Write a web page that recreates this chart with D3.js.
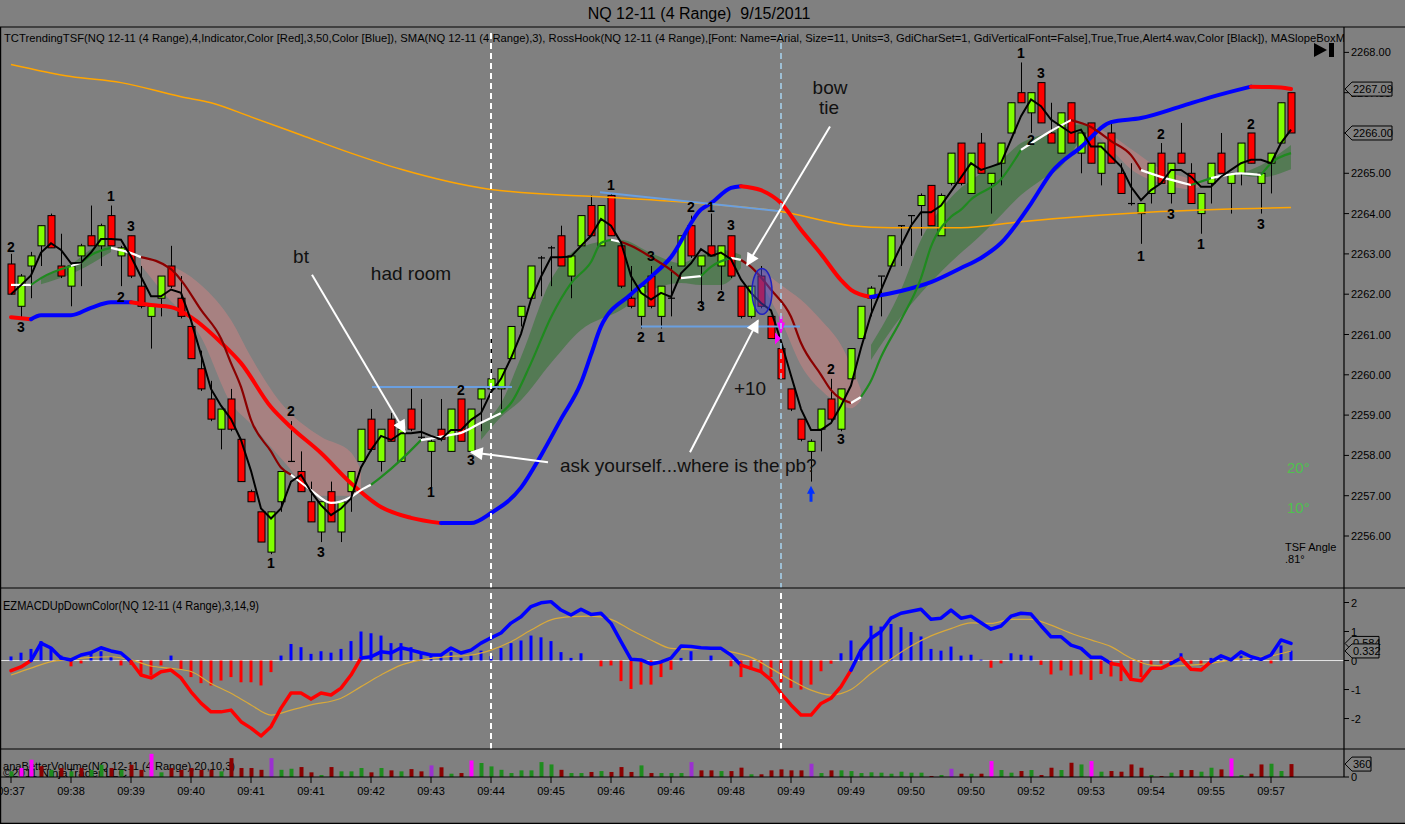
<!DOCTYPE html>
<html lang="en">

<head>
    <meta charset="UTF-8">
    <title>NQ 12-11 (4 Range) 9/15/2011</title>
    <style>
        body {
            margin: 0;
            padding: 0;
            background-color: #808080;
        }

        svg {
            display: block;
            font-family: "Liberation Sans", Arial, sans-serif;
        }
    </style>
</head>

<body>
    <div id="chart"></div>
    <script src="https://d3js.org/d3.v7.min.js"></script>
    <script>
        // ---- range bars (one per bar index 0..128) ----
        const opens = [2262.75, 2261.7, 2262.7, 2263.2, 2263.95, 2262.7, 2262.2, 2262.95, 2263.45, 2263.2,
            2263.95, 2262.95, 2263.45, 2262.2, 2261.45, 2261.9, 2262.7, 2261.9, 2261.2, 2260.15,
            2259.4, 2258.65, 2259.4, 2258.4, 2257.1, 2256.6, 2255.6, 2256.85, 2257.85, 2257.6,
            2256.85, 2256.1, 2257.1, 2256.1, 2257.1, 2257.85, 2258.9, 2257.85, 2258.9, 2257.85,
            2259.15, 2258.45, 2258.1, 2258.65, 2258.1, 2259.4, 2258.1, 2259.4, 2259.65, 2259.65,
            2260.4, 2261.45, 2261.9, 2262.9, 2263.15, 2263.45, 2262.45, 2263.2, 2264.2, 2263.2,
            2264.45, 2263.2, 2261.9, 2261.45, 2262.45, 2261.45, 2261.9, 2262.7, 2263.7, 2262.7,
            2263.2, 2262.7, 2263.45, 2262.2, 2261.45, 2262.45, 2261.45, 2260.65, 2259.65, 2258.9,
            2258.1, 2258.65, 2259.4, 2258.65, 2259.9, 2260.9, 2261.9, 2262.45, 2262.7, 2263.7,
            2263.95, 2264.2, 2264.7, 2263.45, 2264.75, 2265.75, 2264.5, 2265.75, 2264.75, 2265.25,
            2266.0, 2267.0, 2266.5, 2267.25, 2266.0, 2265.5, 2266.75, 2265.5, 2266.25, 2265.0,
            2266.0, 2265.0, 2264.25, 2264.0, 2264.5, 2265.5, 2264.5, 2265.5, 2265.0, 2264.0,
            2264.75, 2265.5, 2264.75, 2265.0, 2266.0, 2264.75, 2265.25, 2265.75, 2267.0];
        const highs = [2263.0, 2262.5, 2263.05, 2263.7, 2264.0, 2263.5, 2262.75, 2263.25, 2264.2, 2263.75,
            2264.2, 2263.2, 2263.45, 2262.7, 2261.7, 2262.45, 2263.2, 2262.45, 2261.2, 2260.6,
            2259.85, 2259.15, 2259.65, 2258.4, 2257.15, 2256.6, 2256.6, 2257.6, 2258.85, 2258.1,
            2257.35, 2256.85, 2257.35, 2256.85, 2257.6, 2258.65, 2259.15, 2258.65, 2259.05, 2258.65,
            2259.65, 2259.4, 2258.4, 2259.4, 2259.15, 2259.4, 2259.15, 2259.65, 2260.9, 2260.15,
            2261.2, 2261.7, 2262.7, 2262.95, 2263.2, 2263.7, 2262.95, 2263.95, 2264.45, 2264.2,
            2264.5, 2263.2, 2262.7, 2262.2, 2262.7, 2262.2, 2262.7, 2263.45, 2263.95, 2262.95,
            2264.0, 2263.2, 2263.45, 2262.2, 2262.2, 2262.7, 2261.45, 2260.65, 2259.65, 2258.9,
            2258.4, 2259.15, 2259.9, 2259.65, 2260.65, 2261.7, 2262.2, 2262.45, 2263.45, 2263.7,
            2263.95, 2264.5, 2264.7, 2264.5, 2265.5, 2265.75, 2265.5, 2266.0, 2265.0, 2265.75,
            2266.75, 2267.75, 2267.0, 2267.25, 2266.75, 2266.5, 2266.75, 2266.0, 2266.25, 2265.75,
            2266.25, 2265.25, 2265.25, 2264.25, 2265.25, 2265.75, 2265.25, 2266.25, 2265.25, 2264.5,
            2265.25, 2266.0, 2265.0, 2265.75, 2266.0, 2265.0, 2265.5, 2266.75, 2267.0];
        const lows = [2262.0, 2261.4, 2261.9, 2262.7, 2263.15, 2262.4, 2261.7, 2262.2, 2263.2, 2262.7,
            2263.2, 2262.2, 2262.4, 2261.65, 2260.65, 2261.45, 2262.15, 2261.4, 2260.4, 2259.6,
            2258.85, 2258.15, 2258.6, 2257.35, 2256.85, 2255.85, 2255.55, 2256.6, 2257.85, 2257.1,
            2256.35, 2255.85, 2256.35, 2255.85, 2256.6, 2257.85, 2258.1, 2257.6, 2258.35, 2257.85,
            2258.6, 2258.4, 2257.2, 2258.35, 2258.1, 2258.35, 2258.1, 2258.6, 2259.6, 2259.15,
            2260.4, 2261.2, 2261.9, 2261.95, 2262.2, 2262.7, 2261.9, 2263.2, 2263.45, 2263.2,
            2263.45, 2262.15, 2261.65, 2261.15, 2261.65, 2261.15, 2261.45, 2262.7, 2262.9, 2261.75,
            2262.95, 2262.1, 2262.4, 2261.4, 2261.4, 2261.65, 2260.9, 2259.9, 2259.1, 2258.35,
            2257.35, 2258.1, 2258.85, 2258.6, 2259.9, 2260.9, 2261.45, 2261.45, 2262.7, 2262.7,
            2262.95, 2263.45, 2263.7, 2263.45, 2264.7, 2264.7, 2264.5, 2265.0, 2264.0, 2264.7,
            2266.0, 2266.75, 2266.0, 2266.25, 2265.75, 2265.5, 2265.75, 2265.0, 2265.25, 2264.7,
            2265.25, 2264.5, 2264.2, 2263.25, 2264.25, 2264.75, 2264.25, 2265.25, 2264.25, 2263.5,
            2264.25, 2265.0, 2264.0, 2264.7, 2265.25, 2264.0, 2264.5, 2265.75, 2266.0];
        const closes = [2262.0, 2262.45, 2262.95, 2263.7, 2263.15, 2262.45, 2262.7, 2263.2, 2263.2, 2263.7,
            2263.2, 2263.15, 2262.45, 2261.7, 2261.7, 2262.45, 2262.2, 2261.45, 2260.4, 2259.65,
            2258.9, 2259.15, 2258.65, 2257.35, 2256.85, 2255.85, 2256.6, 2257.6, 2257.85, 2257.1,
            2256.35, 2256.85, 2256.35, 2256.85, 2257.6, 2258.65, 2258.15, 2258.65, 2258.35, 2258.65,
            2258.65, 2258.45, 2258.35, 2258.4, 2259.15, 2258.35, 2259.15, 2259.65, 2259.9, 2260.15,
            2261.2, 2261.7, 2262.7, 2262.9, 2263.15, 2262.7, 2262.95, 2263.95, 2263.45, 2264.2,
            2263.45, 2262.2, 2261.7, 2262.2, 2261.7, 2262.2, 2261.9, 2263.45, 2262.95, 2262.95,
            2262.95, 2263.2, 2262.45, 2261.45, 2262.2, 2261.7, 2260.9, 2259.9, 2259.15, 2258.4,
            2258.35, 2259.15, 2258.9, 2259.65, 2260.65, 2261.7, 2262.15, 2262.45, 2263.45, 2263.7,
            2263.95, 2264.45, 2263.7, 2264.45, 2265.5, 2264.75, 2265.5, 2265.0, 2265.0, 2265.75,
            2266.75, 2266.75, 2267.0, 2266.25, 2265.75, 2266.5, 2265.75, 2266.0, 2265.25, 2265.75,
            2265.25, 2264.5, 2264.25, 2264.25, 2265.25, 2264.75, 2265.25, 2265.25, 2264.25, 2264.5,
            2265.25, 2265.0, 2265.0, 2265.75, 2265.25, 2265.0, 2265.5, 2266.75, 2266.0];

        const timeLabels = ["09:37", "09:38", "09:39", "09:40", "09:41", "09:41", "09:42", "09:43", "09:44", "09:45", "09:46",
            "09:46", "09:48", "09:49", "09:49", "09:50", "09:50", "09:52", "09:53", "09:54", "09:55", "09:57"];
        const priceTicks = [2256, 2257, 2258, 2259, 2260, 2261, 2262, 2263, 2264, 2265, 2266, 2267, 2268];
        const macdTicks = [-2, -1, 0, 1, 2];

        // ---- overlays as [bar, price] ----
        const slowSma = [[0, 2267.7], [6, 2267.4], [11, 2267.25], [17, 2266.9], [20, 2266.75], [24, 2266.4], [29, 2265.95],
            [34, 2265.5], [39, 2265.1], [48, 2264.6], [60, 2264.4], [69, 2264.25], [77, 2264.05], [84, 2263.7],
            [88, 2263.65], [95, 2263.65], [101, 2263.8], [115, 2264.05], [128, 2264.15]];

        const trendTsf = [[0, 2261.43], [2, 2261.38], [3, 2261.48], [6, 2261.48], [8, 2261.66], [10, 2261.8], [12, 2261.8],
            [14, 2261.73], [16, 2261.68], [18, 2261.43], [21, 2260.8], [23, 2260.29], [26, 2259.2], [28, 2258.7],
            [31, 2258.06], [34, 2257.31], [37, 2256.72], [40, 2256.45], [43, 2256.32], [46, 2256.32], [48, 2256.57],
            [51, 2257.2], [53, 2258.0], [55, 2258.9], [57, 2259.8], [58, 2260.5], [59, 2261.2], [62, 2262.0],
            [64, 2262.43], [66, 2262.92], [69, 2264.1], [70, 2264.26], [72, 2264.64], [73, 2264.68], [75, 2264.58],
            [77, 2264.26], [79, 2263.6], [81, 2263.0], [83, 2262.35], [84, 2262.11], [86, 2261.93], [89, 2262.08],
            [92, 2262.3], [95, 2262.65], [97, 2262.9], [99, 2263.27], [102, 2264.25], [104, 2265.01], [107, 2265.65],
            [110, 2266.27], [113, 2266.37], [117, 2266.66], [120, 2266.89], [124, 2267.15], [127, 2267.13], [128, 2267.09]];

        // fast line: [bar, price, state of the segment that starts here] u = up, d = down, f = flat
        const fastLine = [[0, 2262.23, "f"], [2, 2262.23, "u"], [3, 2262.4, "u"], [6, 2262.7, "f"], [7, 2262.78, "u"],
            [8, 2262.97, "u"], [10, 2263.15, "f"], [12, 2263.02, "f"], [13, 2262.92, "d"], [16, 2262.62, "d"],
            [17, 2262.35, "d"], [19, 2261.61, "d"], [21, 2260.9, "d"], [22, 2260.29, "d"], [23, 2259.7, "d"],
            [24, 2258.88, "d"], [26, 2258.1, "d"], [27, 2257.7, "d"], [28, 2257.52, "f"], [30, 2257.14, "f"],
            [32, 2256.82, "f"], [34, 2256.97, "f"], [35, 2257.14, "f"], [36, 2257.27, "u"], [37, 2257.46, "u"],
            [39, 2257.89, "u"], [41, 2258.38, "f"], [44, 2258.51, "f"], [45, 2258.56, "f"], [47, 2258.81, "f"],
            [49, 2259.05, "u"], [50, 2259.3, "u"], [52, 2260.29, "u"], [54, 2261.43, "u"], [56, 2262.27, "u"],
            [58, 2262.8, "u"], [59, 2263.27, "u"], [60, 2263.35, "f"], [61, 2263.3, "d"], [62, 2263.2, "d"],
            [64, 2262.92, "d"], [66, 2262.6, "d"], [67, 2262.4, "f"], [69, 2262.45, "u"], [70, 2262.68, "u"],
            [72, 2262.9, "f"], [73, 2262.85, "d"], [74, 2262.68, "d"], [76, 2262.11, "d"], [78, 2261.44, "d"],
            [79, 2260.79, "d"], [81, 2260.0, "d"], [82, 2259.62, "d"], [84, 2259.3, "f"], [85, 2259.45, "u"],
            [86, 2259.85, "u"], [87, 2260.44, "u"], [89, 2261.36, "u"], [91, 2262.4, "u"], [92, 2263.18, "u"],
            [94, 2263.92, "u"], [95, 2264.1, "u"], [96, 2264.35, "u"], [99, 2264.85, "u"], [101, 2265.58, "f"],
            [104, 2266.05, "f"], [106, 2266.32, "d"], [108, 2266.15, "d"], [110, 2265.8, "d"], [112, 2265.45, "d"],
            [113, 2265.08, "f"], [115, 2264.91, "f"], [118, 2264.71, "u"], [120, 2264.88, "f"], [123, 2265.0, "f"],
            [125, 2264.96, "u"], [126, 2265.25, "u"], [128, 2265.5, "u"]];

        // shaded clouds: [bar, upper price, lower price]
        const cloudUpA = [[3, 2262.4, 2262.25], [6, 2262.75, 2262.5], [9, 2263.2, 2262.9], [10, 2263.2, 2263.05]];
        const cloudDownA = [[13, 2262.9, 2262.72], [15, 2262.8, 2262.1], [19, 2262.23, 2260.94], [22, 2261.36, 2259.3],
            [24, 2260.44, 2258.78], [27, 2259.3, 2257.93], [31, 2258.46, 2257.0], [34, 2258.07, 2257.0], [35, 2257.64, 2257.14]];
        const cloudUpB = [[47, 2258.76, 2258.38], [49, 2259.3, 2258.95], [51, 2260.44, 2259.37], [54, 2262.35, 2260.29],
            [57, 2263.17, 2261.11], [61, 2263.35, 2261.61], [64, 2263.02, 2262.1], [67, 2262.77, 2262.28],
            [69, 2262.97, 2262.23], [71, 2263.1, 2262.23], [73, 2262.97, 2262.65]];
        const cloudDownB = [[75, 2262.6, 2262.3], [77, 2262.23, 2261.36], [79, 2261.86, 2260.24], [81, 2261.36, 2259.62],
            [83, 2260.74, 2259.25], [84, 2260.24, 2259.17], [85, 2259.62, 2259.37]];
        const cloudUpC = [[86, 2260.74, 2260.37], [89, 2262.11, 2261.44], [91, 2263.35, 2262.03], [94, 2264.4, 2262.8],
            [97, 2265.0, 2263.47], [99, 2265.33, 2263.96], [101, 2265.75, 2264.46], [103, 2265.95, 2264.83],
            [105, 2266.12, 2265.16], [107, 2266.22, 2265.83], [108, 2266.2, 2266.1]];
        const cloudDownC = [[108, 2266.2, 2266.1], [110, 2265.95, 2265.6], [112, 2265.6, 2265.1], [115, 2265.1, 2264.75],
            [118, 2264.85, 2264.6], [119, 2264.75, 2264.7]];
        const cloudUpD = [[123, 2265.0, 2264.95], [125, 2265.2, 2264.9], [128, 2265.7, 2265.1]];

        // RossHook swing labels: [bar, price, label]
        const swingLabels = [[0, 2263.17, "2"], [1, 2261.18, "3"], [10, 2264.44, "1"], [12, 2263.69, "3"], [11, 2261.93, "2"],
            [28, 2259.1, "2"], [26, 2255.33, "1"], [31, 2255.6, "3"], [42, 2257.09, "1"], [45, 2259.63, "2"], [46, 2257.89, "3"],
            [60, 2264.71, "1"], [64, 2262.95, "3"], [63, 2260.94, "2"], [65, 2260.94, "1"], [68, 2264.17, "2"],
            [70, 2264.17, "1"], [69, 2261.71, "3"], [71, 2261.96, "2"], [72, 2263.71, "3"], [82, 2260.15, "2"],
            [83, 2258.41, "3"], [101, 2267.98, "1"], [103, 2267.49, "3"], [102, 2265.83, "2"], [113, 2262.94, "1"],
            [115, 2265.97, "2"], [116, 2263.99, "3"], [119, 2263.24, "1"], [124, 2266.22, "2"], [125, 2263.74, "3"]];

        // hand drawn notes
        const notes = [[29, 2262.95, "bt"], [40, 2262.53, "had room"], [81.9, 2267.14, "bow"], [81.8, 2266.65, "tie"],
            [73.9, 2259.67, "+10"]];
        const noteAsk = [54.9, 2257.76, "ask yourself...where is the pb?"];
        const noteArrows = [[30.1, 2262.48, 39.4, 2258.58], [53.7, 2257.83, 46.0, 2258.08],
            [67.9, 2258.08, 74.7, 2261.35], [81.9, 2266.16, 73.6, 2262.72]];
        const levelLines = [[36.1, 2259.7, 50.1, 2259.7], [58.9, 2264.53, 76.9, 2264.06], [63.0, 2261.2, 78.9, 2261.2]];

        // ---- oscillator panel ----
        const macd = [-0.35, -0.22, 0.0, 0.6, 0.43, 0.09, 0.02, 0.19, 0.27, 0.44,
            0.33, 0.26, -0.04, -0.5, -0.6, -0.39, -0.33, -0.6, -1.08, -1.47,
            -1.77, -1.77, -1.71, -2.11, -2.33, -2.6, -2.28, -1.64, -1.12, -1.12,
            -1.33, -1.12, -1.19, -0.95, -0.5, 0.09, 0.13, 0.3, 0.26, 0.44,
            0.36, 0.27, 0.19, 0.19, 0.43, 0.26, 0.36, 0.6, 0.78, 0.95,
            1.29, 1.51, 1.86, 1.99, 2.03, 1.74, 1.57, 1.77, 1.59, 1.63,
            1.28, 0.65, 0.04, 0.02, -0.12, -0.05, 0.08, 0.5, 0.48, 0.44,
            0.42, 0.42, 0.19, -0.16, -0.27, -0.38, -0.67, -1.13, -1.53, -1.88,
            -1.88, -1.48, -1.3, -0.9, -0.33, 0.36, 0.77, 1.0, 1.46, 1.63,
            1.7, 1.77, 1.42, 1.46, 1.74, 1.46, 1.53, 1.3, 1.08, 1.19,
            1.53, 1.63, 1.6, 1.2, 0.82, 0.82, 0.53, 0.42, 0.11, 0.11,
            -0.1, -0.16, -0.65, -0.7, -0.27, -0.27, -0.1, 0.08, -0.3, -0.33,
            -0.04, 0.16, 0.02, 0.3, 0.13, 0.04, 0.19, 0.71, 0.59];
        const macdHist = [0.14, 0.27, 0.4, 0.67, 0.4, 0.17, -0.2, -0.1, 0.27, 0.32,
            0.14, -0.17, -0.15, -0.52, -0.52, -0.17, 0.17, -0.29, -0.57, -0.78,
            -0.86, -0.69, -0.57, -0.75, -0.75, -0.86, -0.4, 0.17, 0.57, 0.46,
            0.23, 0.32, 0.27, 0.4, 0.67, 1.0, 0.94, 0.86, 0.6, 0.6,
            0.46, 0.29, 0.23, 0.14, 0.29, 0.09, 0.17, 0.34, 0.15, 0.43,
            0.6, 0.69, 0.86, 0.8, 0.67, 0.29, 0.09, 0.25, 0, -0.2,
            -0.17, -0.71, -0.98, -0.83, -0.83, -0.57, -0.32, 0.09, 0.32, 0,
            0.17, 0, -0.2, -0.57, -0.32, -0.4, -0.57, -0.75, -0.94, -1.0,
            -0.83, -0.37, -0.11, 0.25, 0.69, 0.4, 1.2, 1.17, 1.26, 1.15,
            0.98, 0.83, 0.4, 0.34, 0.48, 0.17, 0.2, 0.03, -0.25, -0.1,
            0.25, 0.2, 0.17, -0.15, -0.48, -0.34, -0.52, -0.48, -0.67, -0.46,
            -0.55, -0.71, -0.69, -0.57, -0.17, -0.11, -0.09, 0.25, -0.11, -0.17,
            0.09, 0.06, 0, 0.17, 0.06, 0.03, -0.1, 0.52, 0.34];
        const macdSignal = [[0, -0.5], [2, -0.26], [4, -0.04], [6, 0.04], [8, 0.11], [10, 0.13], [12, 0.02], [14, -0.19],
            [16, -0.27], [18, -0.38], [20, -0.79], [22, -1.13], [24, -1.53], [26, -1.88], [28, -1.71], [30, -1.53],
            [33, -1.3], [35, -0.9], [37, -0.5], [39, -0.16], [41, 0.02], [43, 0.12], [46, 0.19], [48, 0.36], [50, 0.65],
            [52, 1.05], [54, 1.4], [56, 1.51], [58, 1.53], [60, 1.42], [62, 1.05], [64, 0.71], [66, 0.42], [68, 0.39],
            [70, 0.42], [72, 0.3], [74, 0.11], [76, -0.27], [78, -0.67], [80, -1.02], [82, -1.19], [84, -1.0],
            [86, -0.45], [88, 0.05], [90, 0.5], [92, 0.85], [94, 1.1], [96, 1.3], [98, 1.28], [100, 1.42], [102, 1.42],
            [104, 1.22], [106, 0.94], [108, 0.71], [110, 0.48], [112, 0.08], [114, -0.16], [116, -0.19], [118, -0.16],
            [120, -0.1], [122, 0.02], [124, 0.08], [126, 0.16], [128, 0.33]];

        // ---- volume panel ----
        const volume = [157, 250, 480, 300, 200, 250, 157, 250, 200, 340,
            250, 200, 340, 200, 646, 130, 250, 200, 250, 200,
            200, 157, 526, 250, 250, 200, 526, 200, 230, 277,
            130, 55, 277, 157, 157, 250, 130, 250, 185, 157,
            220, 157, 323, 270, 92, 110, 460, 390, 295, 200,
            110, 185, 185, 415, 350, 200, 110, 110, 140, 165,
            140, 277, 140, 323, 110, 110, 110, 110, 415, 185,
            185, 165, 165, 260, 75, 75, 185, 212, 185, 185,
            370, 110, 185, 185, 165, 110, 130, 120, 92, 148,
            120, 120, 28, 55, 230, 92, 92, 92, 443, 194,
            120, 166, 194, 55, 258, 194, 397, 350, 443, 148,
            166, 148, 350, 258, 55, 28, 120, 194, 194, 148,
            258, 212, 517, 55, 92, 350, 370, 166, 360];
        // u = up volume, d = down volume, m = climax, p = churn
        const volumeKind = ["u", "m", "m", "d", "u", "d", "u", "d", "u", "u",
            "d", "u", "d", "d", "m", "u", "d", "d", "d", "d",
            "d", "u", "d", "d", "d", "d", "p", "u", "u", "d",
            "d", "u", "d", "u", "u", "u", "d", "u", "d", "u",
            "d", "d", "p", "d", "u", "d", "m", "u", "u", "u",
            "u", "u", "u", "u", "u", "d", "u", "u", "d", "u",
            "d", "d", "d", "u", "d", "u", "u", "u", "p", "d",
            "d", "u", "d", "d", "u", "d", "d", "d", "d", "d",
            "p", "u", "d", "u", "u", "u", "u", "u", "u", "u",
            "u", "u", "d", "u", "p", "d", "u", "d", "m", "u",
            "u", "d", "u", "d", "d", "u", "d", "u", "m", "u",
            "d", "d", "d", "d", "u", "d", "u", "d", "d", "u",
            "u", "d", "m", "u", "d", "d", "u", "u", "d"];

        // ---- layout ----
        const width = 1405, height = 824;
        const axisX = 1344;
        const main = { top: 27, bottom: 588 };
        const osc = { top: 588, bottom: 749 };
        const vol = { top: 749, bottom: 777 };

        const svg = d3.select("#chart").append("svg")
            .attr("width", width)
            .attr("height", height);

        svg.append("rect").attr("width", width).attr("height", height).attr("fill", "#808080");

        const x = d3.scaleLinear().domain([0, 128]).range([11, 1291]);
        const y = d3.scaleLinear().domain([2254.71, 2268.63]).range([main.bottom, main.top]);
        const yM = d3.scaleLinear().domain([-3.05, 2.5]).range([osc.bottom, osc.top]);
        const yV = d3.scaleLinear().domain([0, 780]).range([vol.bottom, vol.top]);

        const defs = svg.append("defs");
        [["clipMain", main], ["clipOsc", osc], ["clipVol", vol]].forEach(([id, p]) => {
            defs.append("clipPath").attr("id", id)
                .append("rect").attr("x", 0).attr("y", p.top).attr("width", axisX).attr("height", p.bottom - p.top);
        });
        defs.append("clipPath").attr("id", "clipLegend")
            .append("rect").attr("x", 0).attr("y", 27).attr("width", axisX).attr("height", 30);

        defs.append("marker")
            .attr("id", "arrowW")
            .attr("viewBox", "0 0 10 10")
            .attr("refX", 9)
            .attr("refY", 5)
            .attr("markerWidth", 15)
            .attr("markerHeight", 13)
            .attr("markerUnits", "userSpaceOnUse")
            .attr("orient", "auto")
            .append("path")
            .attr("d", "M0,0 L10,5 L0,10 z")
            .attr("fill", "#ffffff");

        // split a polyline into colour runs
        function runs(pts, colorOf) {
            const out = [];
            for (let i = 0; i < pts.length - 1; i++) {
                const c = colorOf(i);
                const last = out[out.length - 1];
                if (last && last.color === c) last.pts.push(pts[i + 1]);
                else out.push({ color: c, pts: [pts[i], pts[i + 1]] });
            }
            return out;
        }

        // ================= main price panel =================
        const gMain = svg.append("g").attr("clip-path", "url(#clipMain)");

        const cloud = d3.area()
            .x(d => x(d[0]))
            .y0(d => y(d[2]))
            .y1(d => y(d[1]))
            .curve(d3.curveMonotoneX);

        [cloudUpA, cloudUpB, cloudUpC, cloudUpD].forEach(c => {
            gMain.append("path").attr("d", cloud(c)).attr("fill", "rgb(40,115,40)").attr("opacity", 0.5);
        });
        [cloudDownA, cloudDownB, cloudDownC].forEach(c => {
            gMain.append("path").attr("d", cloud(c)).attr("fill", "rgb(215,130,130)").attr("opacity", 0.45);
        });

        // candles
        const bars = d3.range(opens.length);
        const candle = gMain.selectAll(".candle").data(bars).enter().append("g").attr("class", "candle");
        candle.append("line")
            .attr("x1", i => x(i) + 0.5).attr("x2", i => x(i) + 0.5)
            .attr("y1", i => y(highs[i])).attr("y2", i => y(lows[i]))
            .attr("stroke", "#000").attr("stroke-width", 1);
        candle.filter(i => opens[i] !== closes[i]).append("rect")
            .attr("x", i => x(i) - 3)
            .attr("width", 7)
            .attr("y", i => y(Math.max(opens[i], closes[i])))
            .attr("height", i => Math.abs(y(opens[i]) - y(closes[i])))
            .attr("fill", i => closes[i] > opens[i] ? "#80ff00" : "#ff0000")
            .attr("stroke", "#000").attr("stroke-width", 1);
        candle.filter(i => opens[i] === closes[i]).append("line")
            .attr("x1", i => x(i) - 3).attr("x2", i => x(i) + 4)
            .attr("y1", i => y(closes[i])).attr("y2", i => y(closes[i]))
            .attr("stroke", "#000").attr("stroke-width", 1.2);

        const smooth = d3.line().x(d => x(d[0])).y(d => y(d[1])).curve(d3.curveMonotoneX);

        gMain.append("path")
            .attr("d", smooth(slowSma))
            .attr("fill", "none").attr("stroke", "#ffa500").attr("stroke-width", 1.5);

        runs(trendTsf, i => trendTsf[i + 1][1] >= trendTsf[i][1] ? "#0000ff" : "#ff0000").forEach(r => {
            gMain.append("path").attr("d", smooth(r.pts))
                .attr("fill", "none").attr("stroke", r.color).attr("stroke-width", 4)
                .attr("stroke-linecap", "round");
        });

        const fastColor = { u: "#1f8a1f", d: "#8b0000", f: "#ffffff" };
        runs(fastLine, i => fastColor[fastLine[i][2]]).forEach(r => {
            gMain.append("path").attr("d", smooth(r.pts))
                .attr("fill", "none").attr("stroke", r.color).attr("stroke-width", 2.2);
        });

        // SMA(3) of the closes, as named in the legend
        const sma3 = closes.map((c, i) => [i, d3.mean(closes.slice(Math.max(0, i - 2), i + 1))]);
        gMain.append("path")
            .attr("d", d3.line().x(d => x(d[0])).y(d => y(d[1]))(sma3))
            .attr("fill", "none").attr("stroke", "#000").attr("stroke-width", 2);

        levelLines.forEach(l => {
            gMain.append("line")
                .attr("x1", x(l[0])).attr("y1", y(l[1])).attr("x2", x(l[2])).attr("y2", y(l[3]))
                .attr("stroke", "#6a9fe0").attr("stroke-width", 2);
        });

        gMain.selectAll(".swing").data(swingLabels).enter().append("text")
            .attr("x", d => x(d[0])).attr("y", d => y(d[1]) + 5)
            .attr("text-anchor", "middle")
            .style("font-size", "14px").style("font-weight", "bold")
            .attr("fill", "#000")
            .text(d => d[2]);

        // ellipse around the bow tie bar and marks at the entry
        gMain.append("ellipse")
            .attr("cx", x(75.1)).attr("cy", y(2262.07))
            .attr("rx", 10).attr("ry", y(2261.5) - y(2262.07))
            .attr("fill", "rgba(70,70,200,0.5)").attr("stroke", "#2020c0").attr("stroke-width", 1.5);
        gMain.append("path")
            .attr("d", `M${x(77) - 4},${y(2261.3)} L${x(77) + 4},${y(2261.3)} L${x(77)},${y(2261.0)} Z`)
            .attr("fill", "#ff00ff");
        gMain.append("line")
            .attr("x1", x(77)).attr("x2", x(77)).attr("y1", y(2261.45)).attr("y2", y(2261.25))
            .attr("stroke", "#ff00ff").attr("stroke-width", 3);
        gMain.append("path")
            .attr("d", `M${x(76.7) - 3},${y(2261.05)} L${x(76.7) + 3},${y(2260.9)} L${x(76.7) - 3},${y(2260.75)} Z`)
            .attr("fill", "#ff00ff");
        gMain.append("path")
            .attr("d", `M${x(80)},${y(2257.25)} L${x(80) + 4},${y(2257.05)} L${x(80) - 4},${y(2257.05)} Z`)
            .attr("fill", "#0030ff");
        gMain.append("line")
            .attr("x1", x(80)).attr("x2", x(80)).attr("y1", y(2257.1)).attr("y2", y(2256.85))
            .attr("stroke", "#0030ff").attr("stroke-width", 3);

        // notes
        notes.forEach(n => {
            gMain.append("text")
                .attr("x", x(n[0])).attr("y", y(n[1]) + 7)
                .attr("text-anchor", "middle")
                .style("font-size", "19px")
                .attr("fill", "#111")
                .text(n[2]);
        });
        gMain.append("text")
            .attr("x", x(noteAsk[0])).attr("y", y(noteAsk[1]) + 7)
            .style("font-size", "19px")
            .attr("fill", "#111")
            .text(noteAsk[2]);

        noteArrows.forEach(a => {
            gMain.append("line")
                .attr("x1", x(a[0])).attr("y1", y(a[1])).attr("x2", x(a[2])).attr("y2", y(a[3]))
                .attr("stroke", "#ffffff").attr("stroke-width", 2)
                .attr("marker-end", "url(#arrowW)");
        });

        // angle readout
        gMain.append("text").attr("x", 1287).attr("y", 473).style("font-size", "15px").attr("fill", "#4ec24e").text("20°");
        gMain.append("text").attr("x", 1287).attr("y", 513).style("font-size", "15px").attr("fill", "#4ec24e").text("10°");
        gMain.append("text").attr("x", 1285).attr("y", 551).style("font-size", "11px").attr("fill", "#000").text("TSF Angle");
        gMain.append("text").attr("x", 1285).attr("y", 563).style("font-size", "11px").attr("fill", "#000").text(".81°");

        // session markers
        gMain.append("line")
            .attr("x1", x(48)).attr("x2", x(48)).attr("y1", main.top + 6).attr("y2", main.bottom)
            .attr("stroke", "#ffffff").attr("stroke-width", 2).attr("stroke-dasharray", "6,4");
        gMain.append("line")
            .attr("x1", x(77)).attr("x2", x(77)).attr("y1", main.top + 6).attr("y2", main.bottom)
            .attr("stroke", "#a8d4f0").attr("stroke-width", 1.5).attr("stroke-dasharray", "6,4");

        // legend text
        svg.append("text")
            .attr("clip-path", "url(#clipLegend)")
            .attr("x", 4).attr("y", 42)
            .attr("textLength", 1341).attr("lengthAdjust", "spacingAndGlyphs")
            .style("font-size", "11px").attr("fill", "#000")
            .text("TCTrendingTSF(NQ 12-11 (4 Range),4,Indicator,Color [Red],3,50,Color [Blue]), SMA(NQ 12-11 (4 Range),3), RossHook(NQ 12-11 (4 Range),[Font: Name=Arial, Size=11, Units=3, GdiCharSet=1, GdiVerticalFont=False],True,True,Alert4.wav,Color [Black]), MASlopeBoxM");

        // skip-to-end icon
        svg.append("path").attr("d", "M1314,43 L1314,57 L1327,50 Z").attr("fill", "#000");
        svg.append("rect").attr("x", 1329).attr("y", 43).attr("width", 5).attr("height", 14).attr("fill", "#000");

        // ================= oscillator panel =================
        const gOsc = svg.append("g").attr("clip-path", "url(#clipOsc)");

        gOsc.append("line")
            .attr("x1", 0).attr("x2", axisX).attr("y1", yM(0)).attr("y2", yM(0))
            .attr("stroke", "#e4e4e4").attr("stroke-width", 1);

        gOsc.selectAll(".hist").data(bars).enter().append("rect")
            .attr("x", i => x(i) - 1.5)
            .attr("width", 3)
            .attr("y", i => yM(Math.max(0, macdHist[i])))
            .attr("height", i => Math.abs(yM(macdHist[i]) - yM(0)))
            .attr("fill", i => macdHist[i] >= 0 ? "#0000ff" : "#ff0000");

        gOsc.append("path")
            .attr("d", d3.line().x(d => x(d[0])).y(d => yM(d[1])).curve(d3.curveMonotoneX)(macdSignal))
            .attr("fill", "none").attr("stroke", "#d9a93a").attr("stroke-width", 1.2);

        const macdPts = macd.map((v, i) => [i, v]);
        runs(macdPts, i => (macd[i] + macd[i + 1]) / 2 > -0.1 ? "#0000ff" : "#ff0000").forEach(r => {
            gOsc.append("path")
                .attr("d", d3.line().x(d => x(d[0])).y(d => yM(d[1]))(r.pts))
                .attr("fill", "none").attr("stroke", r.color).attr("stroke-width", 3.5)
                .attr("stroke-linejoin", "round").attr("stroke-linecap", "round");
        });

        [48, 77].forEach(b => {
            gOsc.append("line")
                .attr("x1", x(b)).attr("x2", x(b)).attr("y1", osc.top + 5).attr("y2", osc.bottom)
                .attr("stroke", "#ffffff").attr("stroke-width", 2).attr("stroke-dasharray", "6,4");
        });

        svg.append("text")
            .attr("x", 3).attr("y", 610)
            .attr("textLength", 256).attr("lengthAdjust", "spacingAndGlyphs")
            .style("font-size", "12px").attr("fill", "#000")
            .text("EZMACDUpDownColor(NQ 12-11 (4 Range),3,14,9)");

        // ================= volume panel =================
        svg.append("text")
            .attr("x", 3).attr("y", 770)
            .attr("textLength", 232).attr("lengthAdjust", "spacingAndGlyphs")
            .style("font-size", "11px").attr("fill", "#000")
            .text("anaBetterVolume(NQ 12-11 (4 Range),20,10,3)");
        svg.append("text")
            .attr("x", 3).attr("y", 777)
            .attr("textLength", 124).attr("lengthAdjust", "spacingAndGlyphs")
            .style("font-size", "11px").attr("fill", "#000")
            .text("©2011 NinjaTrader LLC");

        const volColor = { u: "#1e8c1e", d: "#8b0000", m: "#ff00ff", p: "#9b30d0" };
        const gVol = svg.append("g").attr("clip-path", "url(#clipVol)");
        gVol.selectAll(".vol").data(bars).enter().append("rect")
            .attr("x", i => x(i) - 1.5)
            .attr("width", 4)
            .attr("y", i => yV(volume[i]))
            .attr("height", i => yV(0) - yV(volume[i]))
            .attr("fill", i => volColor[volumeKind[i]]);

        // ================= frames and axes =================
        const frame = svg.append("g").attr("stroke", "#000").attr("stroke-width", 1.2);
        frame.append("line").attr("x1", 0).attr("x2", width).attr("y1", main.top).attr("y2", main.top);
        frame.append("line").attr("x1", 0).attr("x2", width).attr("y1", osc.top).attr("y2", osc.top);
        frame.append("line").attr("x1", 0).attr("x2", width).attr("y1", vol.top).attr("y2", vol.top);
        frame.append("line").attr("x1", 0).attr("x2", axisX).attr("y1", vol.bottom).attr("y2", vol.bottom);
        frame.append("line").attr("x1", axisX).attr("x2", axisX).attr("y1", main.top).attr("y2", vol.bottom);
        frame.append("line").attr("x1", 0.6).attr("x2", 0.6).attr("y1", main.top).attr("y2", height);
        frame.append("line").attr("x1", 0).attr("x2", width).attr("y1", height - 0.6).attr("y2", height - 0.6);

        const axisG = svg.append("g").style("font-size", "11px");

        priceTicks.forEach(v => {
            axisG.append("line").attr("x1", axisX).attr("x2", axisX + 5).attr("y1", y(v)).attr("y2", y(v)).attr("stroke", "#000");
            axisG.append("text").attr("x", axisX + 7).attr("y", y(v) + 4).attr("fill", "#000").text(v.toFixed(2));
        });
        macdTicks.forEach(v => {
            axisG.append("line").attr("x1", axisX).attr("x2", axisX + 5).attr("y1", yM(v)).attr("y2", yM(v)).attr("stroke", "#000");
            axisG.append("text").attr("x", axisX + 7).attr("y", yM(v) + 4).attr("fill", "#000").text(v);
        });
        axisG.append("line").attr("x1", axisX).attr("x2", axisX + 5).attr("y1", yV(0)).attr("y2", yV(0)).attr("stroke", "#000");
        axisG.append("text").attr("x", axisX + 7).attr("y", yV(0) + 4).attr("fill", "#000").text("0");

        timeLabels.forEach((t, k) => {
            const b = k * 6;
            axisG.append("line").attr("x1", x(b)).attr("x2", x(b)).attr("y1", vol.bottom).attr("y2", vol.bottom + 6).attr("stroke", "#000");
            axisG.append("text").attr("x", x(b)).attr("y", 795).attr("text-anchor", "middle").attr("fill", "#000").text(t);
        });

        // value badges on the price scale
        function badge(yPos, label, w) {
            const x0 = axisX + 1;
            axisG.append("path")
                .attr("d", `M${x0},${yPos} L${x0 + 7},${yPos - 7} L${x0 + w},${yPos - 7} L${x0 + w},${yPos + 7} L${x0 + 7},${yPos + 7} Z`)
                .attr("fill", "#808080").attr("stroke", "#000").attr("stroke-width", 1);
            axisG.append("text").attr("x", x0 + 8).attr("y", yPos + 4).attr("fill", "#000").text(label);
        }
        badge(y(2267.09), "2267.09", 47);
        badge(y(closes[closes.length - 1]), closes[closes.length - 1].toFixed(2), 47);
        badge(yM(macd[macd.length - 1]), "0.584", 34);
        badge(yM(macdSignal[macdSignal.length - 1][1]), "0.332", 34);
        badge(yV(volume[volume.length - 1]), String(volume[volume.length - 1]), 26);

        // title
        svg.append("text")
            .attr("x", 699).attr("y", 19)
            .attr("text-anchor", "middle")
            .style("font-size", "16px").style("white-space", "pre")
            .attr("fill", "#000")
            .text("NQ 12-11 (4 Range)  9/15/2011");
    </script>
</body>

</html>
